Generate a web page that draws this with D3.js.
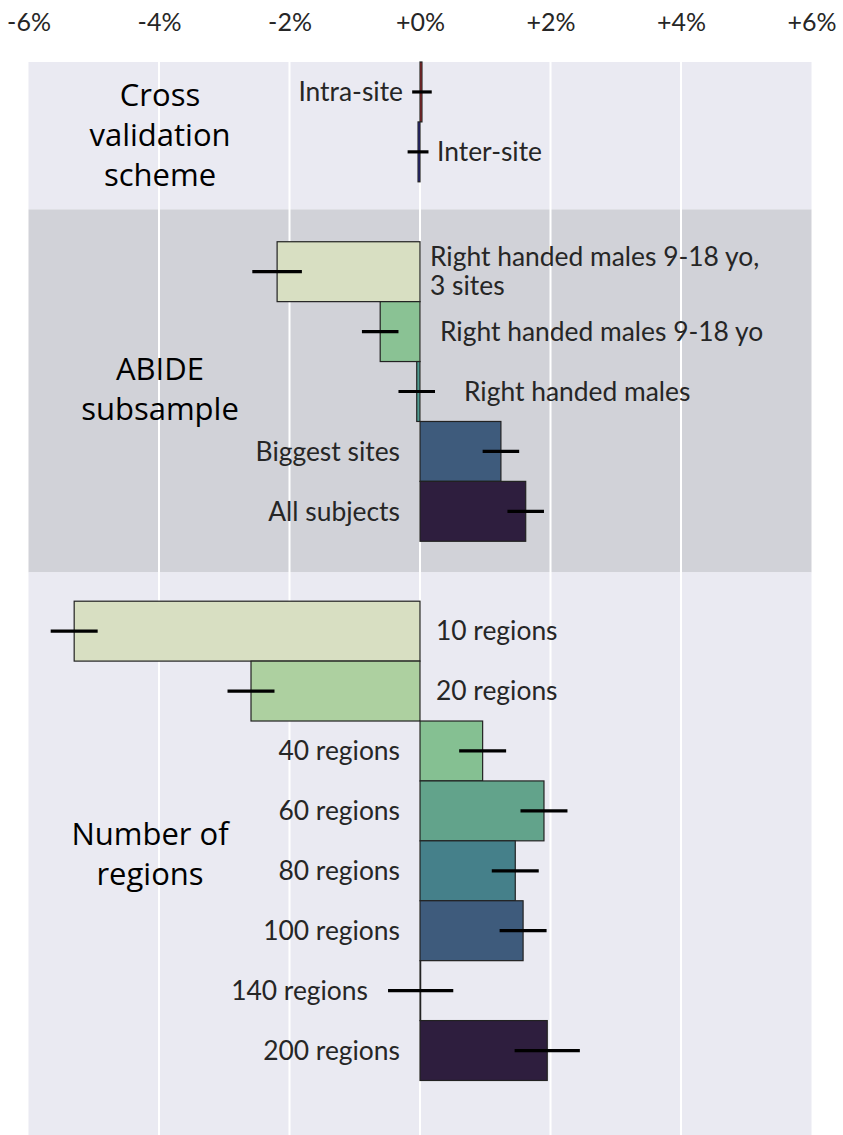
<!DOCTYPE html>
<html><head><meta charset="utf-8">
<script src="https://cdn.jsdelivr.net/npm/d3@7/dist/d3.min.js"></script>
<style>body{margin:0;background:#fff}svg{display:block}</style>
</head><body>
<script>
// ---- data ----
const categories = ["Intra-site","Inter-site",
  "Right handed males 9-18 yo,\n3 sites","Right handed males 9-18 yo","Right handed males","Biggest sites","All subjects",
  "10 regions","20 regions","40 regions","60 regions","80 regions","100 regions","140 regions","200 regions"];
const values = [0.03,-0.03, -2.19,-0.61,-0.05,1.24,1.62, -5.30,-2.59,0.96,1.90,1.46,1.58,0.01,1.95];
const errors = [0.15,0.16, 0.38,0.28,0.28,0.28,0.28, 0.36,0.36,0.36,0.36,0.36,0.36,0.50,0.50];
const rows   = [0,1, 3,4,5,6,7, 9,10,11,12,13,14,15,16];
const barColors = ["#d62728","#1f1fb4",
  "#d8dfc2","#8ac294","#4f9a90","#3e5b7c","#2e1e3e",
  "#d8dfc2","#add0a0","#85c092","#62a38b","#45808a","#3e5b7c","#3b3a5e","#2e1e3e"];
const groupTitles = [["Cross","validation","scheme"],["ABIDE","subsample"],["Number of","regions"]];
const xTicks = [-6,-4,-2,0,2,4,6];
const xTickLabels = ["-6%","-4%","-2%","+0%","+2%","+4%","+6%"];

// ---- layout ----
const W=843,H=1135;
const svg=d3.select("body").append("svg").attr("width",W).attr("height",H);
const x=d3.scaleLinear().domain([-6,6]).range([28.5,811.5]);
const y=d3.scaleLinear().domain([-0.5,17.41]).range([62,1135]);
const bands=[[-0.5,1.96,"#eaeaf2"],[1.96,8.02,"#d1d2d8"],[8.02,17.41,"#eaeaf2"]];
const titlePos=[[160,0.72],[160,4.96],[150,12.73]];
const labelDx=[-17,17, 10,20,44,-20,-20, 16,16,-20,-20,-20,-20,-52,-20];

svg.selectAll("rect.band").data(bands).join("rect")
  .attr("x",x(-6)).attr("width",x(6)-x(-6))
  .attr("y",d=>y(d[0])).attr("height",d=>y(d[1])-y(d[0]))
  .attr("fill",d=>d[2]);

// gridlines
svg.selectAll("line.grid").data(xTicks.slice(1,-1)).join("line")
  .attr("x1",d=>x(d)).attr("x2",d=>x(d)).attr("y1",62).attr("y2",H)
  .attr("stroke","#fff").attr("stroke-width",2);

// top axis labels
const ax=d3.axisTop(x).tickValues(xTicks).tickFormat((d,i)=>xTickLabels[i]).tickSize(0).tickPadding(0);
const gAx=svg.append("g").attr("transform","translate(0,31)").call(ax);
gAx.select(".domain").remove();
gAx.selectAll("text").attr("font-family","Lato, 'Open Sans', sans-serif").attr("font-size",25).attr("fill","#262626");

// bars
const bh=59.9;
const data=categories.map((c,i)=>({c,v:values[i],e:errors[i],r:rows[i],col:barColors[i],dx:labelDx[i]}));
svg.selectAll("rect.bar").data(data).join("rect")
  .attr("x",d=>x(Math.min(0,d.v))).attr("width",d=>Math.abs(x(d.v)-x(0)))
  .attr("y",d=>y(d.r)-bh/2).attr("height",bh)
  .attr("fill",d=>d.col).attr("stroke","#222").attr("stroke-width",1.2);

// error bars
svg.selectAll("line.err").data(data).join("line")
  .attr("x1",d=>x(d.v-d.e)).attr("x2",d=>x(d.v+d.e))
  .attr("y1",d=>y(d.r)).attr("y2",d=>y(d.r))
  .attr("stroke","#000").attr("stroke-width",3.2);

// labels
data.forEach(d=>{
  const lines=d.c.split("\n");
  const t=svg.append("text")
    .attr("x",x(0)+d.dx).attr("y",y(d.r))
    .attr("text-anchor",d.dx<0?"end":"start")
    .attr("font-family","Lato, 'Open Sans', sans-serif").attr("font-size",26.4).attr("fill","#262626");
  const lh=29, off=-(lines.length-1)*lh/2;
  lines.forEach((l,j)=>t.append("tspan").attr("x",x(0)+d.dx).attr("y",y(d.r)+off+j*lh).attr("dy","0.35em").text(l));
});

// group titles
groupTitles.forEach((g,i)=>{
  const [cx,cr]=titlePos[i];
  const lh=40, off=-(g.length-1)*lh/2;
  const t=svg.append("text").attr("text-anchor","middle")
    .attr("font-family","'Open Sans', 'Noto Sans', sans-serif").attr("font-size",31).attr("fill","#000");
  g.forEach((l,j)=>t.append("tspan").attr("x",cx).attr("y",y(cr)+off+j*lh).attr("dy","0.35em").text(l));
});
</script>
</body></html>
